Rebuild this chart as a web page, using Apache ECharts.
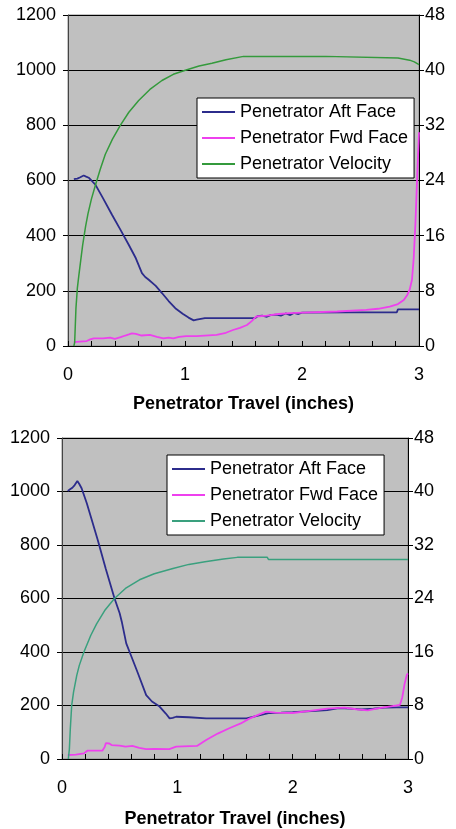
<!DOCTYPE html>
<html><head><meta charset="utf-8">
<script src="https://cdn.jsdelivr.net/npm/echarts@6/dist/echarts.min.js"></script>
<style>html,body{margin:0;padding:0;background:#fff;width:456px;height:829px;overflow:hidden}
#c1{position:absolute;left:0;top:0;width:456px;height:414px}
#c2{position:absolute;left:0;top:414px;width:456px;height:415px}</style>
</head><body>
<div id="c1"></div><div id="c2"></div>
<script>
// ---- Data ----
const seriesNames = ['Penetrator Aft Face', 'Penetrator Fwd Face', 'Penetrator Velocity'];
const xTitle = 'Penetrator Travel (inches)';
const leftTicks = [0, 200, 400, 600, 800, 1000, 1200];
const rightTicks = [0, 8, 16, 24, 32, 40, 48];

// Chart 1 (top)
const aft1X = [0.05, 0.08, 0.105, 0.134, 0.155, 0.177, 0.2, 0.234, 0.3, 0.376, 0.45, 0.519, 0.58, 0.632, 0.66, 0.69, 0.75, 0.803, 0.86, 0.917, 0.98, 1.03, 1.074, 1.1, 1.17, 1.6, 1.62, 1.66, 1.7, 1.73, 1.78, 1.82, 1.86, 1.9, 1.93, 1.97, 2.0, 2.4, 2.81, 2.82, 3.0];
const aft1Y = [605, 607, 612, 618, 614, 610, 600, 585, 535, 476, 420, 367, 318, 264, 250, 240, 218, 192, 163, 137, 117, 103, 93, 96, 101, 101, 108, 110, 106, 112, 114, 110, 118, 112, 120, 116, 121, 122, 122, 133, 133];
const fwd1X = [0.05, 0.1, 0.16, 0.19, 0.22, 0.3, 0.36, 0.4, 0.45, 0.49, 0.52, 0.547, 0.58, 0.63, 0.7, 0.76, 0.815, 0.86, 0.9, 0.95, 1.01, 1.1, 1.27, 1.35, 1.41, 1.47, 1.53, 1.57, 1.61, 1.7, 1.8, 1.9, 2.01, 2.3, 2.55, 2.65, 2.75, 2.82, 2.87, 2.9, 2.92, 2.94, 2.955, 2.97, 2.985, 3.0];
const fwd1Y = [14, 16, 18, 24, 28, 28, 30, 26, 32, 38, 42, 46, 44, 38, 40, 33, 28, 30, 28, 33, 36, 36, 40, 48, 58, 66, 76, 90, 107, 110, 116, 119, 121, 125, 131, 135, 143, 152, 167, 185, 204, 240, 320, 450, 620, 775];
const vel1X = [0.05, 0.057, 0.068, 0.08, 0.091, 0.108, 0.125, 0.15, 0.171, 0.2, 0.234, 0.275, 0.319, 0.38, 0.447, 0.52, 0.604, 0.7, 0.803, 0.9, 1.003, 1.12, 1.23, 1.35, 1.5, 2.2, 2.21, 2.82, 2.92, 2.96, 3.0];
const vel1Y = [0, 0.5, 5.5, 8.4, 10, 12.3, 14.6, 17.3, 19.2, 21.3, 23.3, 25.6, 27.8, 30, 32, 33.9, 35.6, 37.2, 38.5, 39.4, 40, 40.6, 41.0, 41.5, 42.0, 42.0, 41.75, 41.75, 41.45, 41.2, 40.8];

// Chart 2 (bottom)
const aft2X = [0.05, 0.07, 0.09, 0.11, 0.133, 0.15, 0.17, 0.215, 0.25, 0.31, 0.38, 0.455, 0.5, 0.52, 0.557, 0.6, 0.65, 0.73, 0.78, 0.846, 0.9, 0.933, 0.96, 0.99, 1.1, 1.25, 1.6, 1.7, 1.8, 1.9, 2.0, 2.2, 2.3, 2.4, 2.5, 2.6, 2.7, 2.8, 2.9, 3.0];
const aft2Y = [1002, 1008, 1014, 1024, 1039, 1028, 1012, 956, 906, 819, 710, 601, 545, 510, 432, 385, 330, 239, 215, 196, 170, 152, 154, 158, 156, 152, 152, 162, 172, 173, 175, 180, 183, 190, 188, 185, 188, 192, 193, 193];
const fwd2X = [0.05, 0.12, 0.19, 0.22, 0.3, 0.35, 0.37, 0.38, 0.41, 0.43, 0.5, 0.55, 0.61, 0.67, 0.73, 0.8, 0.93, 0.99, 1.05, 1.17, 1.25, 1.35, 1.45, 1.55, 1.62, 1.7, 1.77, 1.85, 2.0, 2.15, 2.3, 2.45, 2.55, 2.65, 2.75, 2.85, 2.9, 2.93, 2.95, 2.97, 2.99, 3.0];
const fwd2Y = [15, 16, 21, 31, 31, 31, 45, 59, 58, 52, 50, 46, 49, 42, 37, 38, 37, 46, 47, 49, 71, 95, 115, 133, 150, 165, 177, 173, 172, 180, 188, 192, 186, 182, 190, 197, 200, 202, 230, 280, 315, 320];
const vel2X = [0.055, 0.058, 0.064, 0.072, 0.084, 0.1, 0.128, 0.15, 0.19, 0.25, 0.3, 0.37, 0.455, 0.55, 0.672, 0.8, 0.962, 1.1, 1.24, 1.4, 1.52, 1.78, 1.79, 3.0];
const vel2Y = [0, 0.5, 1.5, 4.5, 8, 10, 12.5, 14, 16, 18.5, 20.2, 22.2, 24, 25.5, 26.8, 27.7, 28.5, 29.1, 29.5, 29.9, 30.15, 30.15, 29.85, 29.85];

const FONT = 'Liberation Sans, Arial, sans-serif';
const zip = (xs, ys) => xs.map((x, i) => [x, ys[i]]);

function makeOption(cfg) {
  return {
    animation: false,
    textStyle: { fontFamily: FONT },
    grid: { left: cfg.grid.left, right: cfg.grid.right, top: cfg.grid.top, bottom: cfg.grid.bottom,
      containLabel: false, outerBoundsMode: 'none',
      show: true, backgroundColor: '#c0c0c0', borderColor: '#8a8a8a', borderWidth: 1 },
    legend: {
      orient: 'vertical', left: cfg.legend.left, top: cfg.legend.top,
      backgroundColor: '#ffffff', borderColor: '#000', borderWidth: 1,
      padding: [5, 6, 5, 5], itemGap: 8, itemWidth: 33, itemHeight: 2, icon: 'rect',
      textStyle: { fontSize: 18, color: '#000', fontFamily: FONT },
      data: seriesNames
    },
    xAxis: {
      type: 'value', min: 0, max: 3, interval: 0.2,
      axisLine: { show: true, onZero: false, lineStyle: { color: '#000', width: 1 } },
      axisTick: { show: true, inside: true, length: 5, lineStyle: { color: '#000' } },
      axisLabel: { fontSize: 18, color: '#000', margin: 20, fontFamily: FONT,
        formatter: v => Math.abs(v - Math.round(v)) < 1e-6 ? String(Math.round(v)) : '' },
      splitLine: { show: false },
      name: xTitle, nameLocation: 'middle', nameGap: cfg.nameGap,
      nameTextStyle: { fontSize: 18, fontWeight: 'bold', color: '#000', fontFamily: FONT }
    },
    yAxis: [
      { type: 'value', min: leftTicks[0], max: leftTicks[leftTicks.length - 1], interval: leftTicks[1] - leftTicks[0],
        axisLine: { show: true, lineStyle: { color: '#444' } },
        axisTick: { show: true, length: 5, lineStyle: { color: '#000' } },
        axisLabel: { fontSize: 18, color: '#000', margin: 12, fontFamily: FONT, formatter: v => String(v) },
        splitLine: { show: true, lineStyle: { color: '#000', width: 1 } } },
      { type: 'value', position: 'right', min: rightTicks[0], max: rightTicks[rightTicks.length - 1], interval: rightTicks[1] - rightTicks[0],
        axisLine: { show: true, lineStyle: { color: '#000' } },
        axisTick: { show: true, length: 5, lineStyle: { color: '#000' } },
        axisLabel: { fontSize: 18, color: '#000', margin: 6, fontFamily: FONT, formatter: v => String(v) },
        splitLine: { show: false } }
    ],
    series: [
      { name: seriesNames[0], type: 'line', yAxisIndex: 0, symbol: 'none', data: zip(cfg.aftX, cfg.aftY),
        lineStyle: { color: '#2c2c8c', width: 1.8 }, itemStyle: { color: '#2c2c8c' } },
      { name: seriesNames[1], type: 'line', yAxisIndex: 0, symbol: 'none', data: zip(cfg.fwdX, cfg.fwdY),
        lineStyle: { color: '#ee40ee', width: 1.8 }, itemStyle: { color: '#ee40ee' } },
      { name: seriesNames[2], type: 'line', yAxisIndex: 1, symbol: 'none', data: zip(cfg.velX, cfg.velY),
        lineStyle: { color: cfg.velColor, width: 1.5 }, itemStyle: { color: cfg.velColor } }
    ]
  };
}

const c1 = echarts.init(document.getElementById('c1'), null, { renderer: 'canvas' });
c1.setOption(makeOption({
  grid: { left: 68, right: 37, top: 15, bottom: 68 },
  legend: { left: 197, top: 98 },
  nameGap: 49,
  aftX: aft1X, aftY: aft1Y, fwdX: fwd1X, fwdY: fwd1Y, velX: vel1X, velY: vel1Y,
  velColor: '#349a3c'
}));
const c2 = echarts.init(document.getElementById('c2'), null, { renderer: 'canvas' });
c2.setOption(makeOption({
  grid: { left: 62, right: 48, top: 24, bottom: 70 },
  legend: { left: 167, top: 41 },
  nameGap: 51,
  aftX: aft2X, aftY: aft2Y, fwdX: fwd2X, fwdY: fwd2Y, velX: vel2X, velY: vel2Y,
  velColor: '#3aa07e'
}));
</script>
</body></html>
